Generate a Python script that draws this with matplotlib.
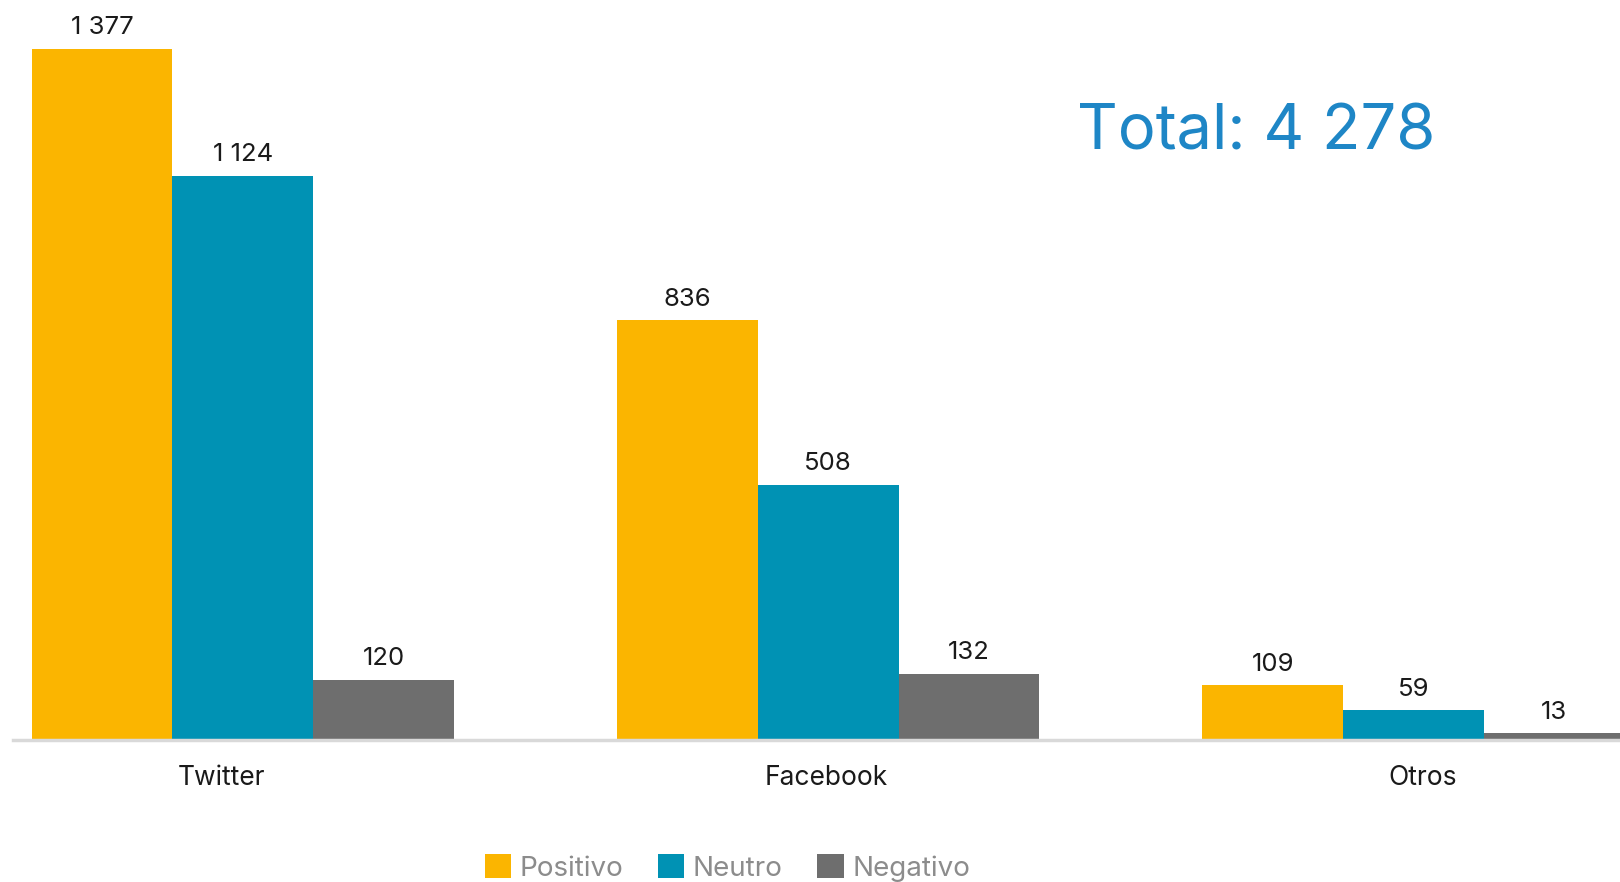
import numpy as np
import matplotlib.pyplot as plt

plt.rcParams['font.family'] = ['Inter', 'DejaVu Sans']

categories = ["Twitter", "Facebook", "Otros"]
series_names = ["Positivo", "Neutro", "Negativo"]
positivo = [1377, 836, 109]
neutro = [1124, 508, 59]
negativo = [120, 132, 13]
total_label = "Total: 4 278"

colors = ["#FBB500", "#0092B4", "#6E6E6E"]


def fmt(v):
    return f"{v:,}".replace(",", " ")


fig = plt.figure(figsize=(16.2, 8.82), dpi=100)
# axes: x from 13 px to right edge, y from baseline (740 px) to top
ax = fig.add_axes([13.4 / 1620, 1 - 740 / 882, 1 - 13.4 / 1620, 740 / 882])

x = np.arange(len(categories))
w = 0.2406
for i, (name, vals) in enumerate(zip(series_names, [positivo, neutro, negativo])):
    pos = x + (i - 1) * w
    ax.bar(pos, vals, width=w, color=colors[i], label=name, zorder=2)
    for p, v in zip(pos, vals):
        ax.annotate(fmt(v), (p, v), xytext=(0, 7), textcoords="offset points",
                    ha="center", va="bottom", fontsize=18.5, color="#1a1a1a")

ax.set_xlim(-0.392, 2.353)
ax.set_ylim(0, 1474)

for s in ["top", "right", "left"]:
    ax.spines[s].set_visible(False)
ax.spines["bottom"].set_color("#D9D9D9")
ax.spines["bottom"].set_linewidth(2.5)
ax.set_yticks([])
# the category labels are not quite centred under each group in the original
ax.set_xticks(x + np.array([-0.037, -0.004, 0.016]))
ax.set_xticklabels(categories, fontsize=19, color="#1a1a1a")
ax.tick_params(axis="x", length=0, pad=18)

fig.text(1256 / 1620, 1 - 133 / 882, total_label, fontsize=45.5, color="#1E86C6",
         ha="center", va="center")

leg = fig.legend(loc="center", bbox_to_anchor=(0.449, 1 - 868 / 882), ncol=3,
                 frameon=False, fontsize=20, handlelength=0.95, handleheight=0.95,
                 columnspacing=1.25, handletextpad=0.3)
for t in leg.get_texts():
    t.set_color("#8C8C8C")

fig.savefig("out.png", dpi=100)
